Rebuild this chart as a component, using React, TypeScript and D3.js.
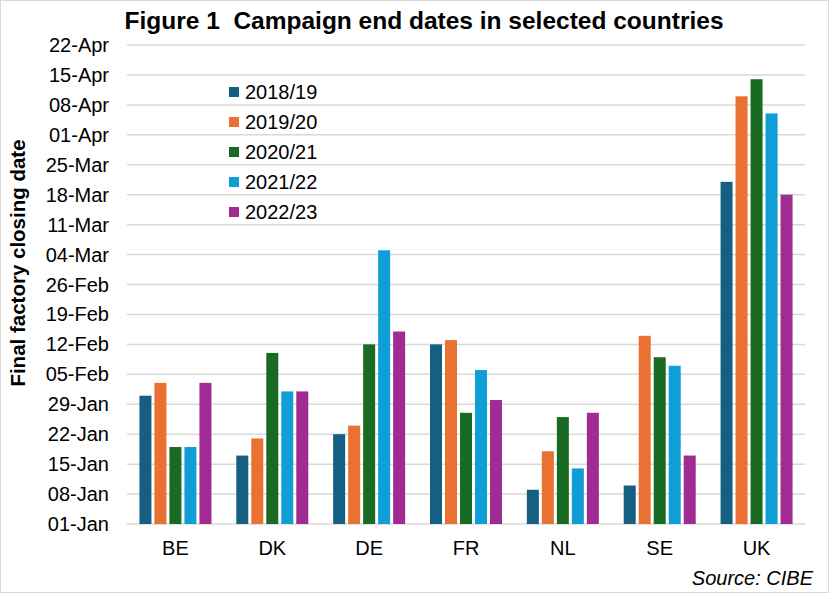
import * as d3 from "d3";

// days after 01-Jan of final factory closing
const countries = ["BE", "DK", "DE", "FR", "NL", "SE", "UK"];
const seasons = ["2018/19", "2019/20", "2020/21", "2021/22", "2022/23"];
const seasonColors = ["#156082", "#E97132", "#196B24", "#0F9ED5", "#A02B93"];
const s2018 = [30, 16, 21, 42, 8, 9, 80];
const s2019 = [33, 20, 23, 43, 17, 44, 100];
const s2020 = [18, 40, 42, 26, 25, 39, 104];
const s2021 = [18, 31, 64, 36, 13, 37, 96];
const s2022 = [33, 31, 45, 29, 26, 16, 77];
const seriesValues = [s2018, s2019, s2020, s2021, s2022];
const tickLabels = [
  "01-Jan", "08-Jan", "15-Jan", "22-Jan", "29-Jan", "05-Feb", "12-Feb", "19-Feb",
  "26-Feb", "04-Mar", "11-Mar", "18-Mar", "25-Mar", "01-Apr", "08-Apr", "15-Apr", "22-Apr",
];

const W = 829;
const H = 593;
const margin = { left: 127, right: 24, top: 45, bottom: 69 };
const font = "'Liberation Sans', Arial, sans-serif";

export default function App() {
  const innerW = W - margin.left - margin.right;
  const innerH = H - margin.top - margin.bottom;

  const y = d3.scaleLinear().domain([0, 112]).range([innerH, 0]);
  const x0 = d3.scaleBand<string>().domain(countries).range([0, innerW]).padding(0);
  const x1 = d3
    .scaleBand<string>()
    .domain(seasons)
    .range([-36, 36])
    .paddingInner(0.2);

  const ticks = tickLabels.map((label, i) => ({ label, v: i * 7 }));

  return (
    <svg
      width={W}
      height={H}
      style={{ position: "absolute", left: 0, top: 0, background: "#fff" }}
      fontFamily={font}
    >
      <rect x={0.5} y={0.5} width={W - 1} height={H - 1} fill="#fff" stroke="#d9d9d9" />
      <text x={424} y={29} textAnchor="middle" fontSize={24.5} fontWeight="bold" fill="#000">
        {"Figure 1\u00a0 Campaign end dates in selected countries"}
      </text>
      <text
        transform={`translate(25,263) rotate(-90)`}
        textAnchor="middle"
        fontSize={20.5}
        fontWeight="bold"
        fill="#000"
      >
        Final factory closing date
      </text>
      <g transform={`translate(${margin.left},${margin.top})`}>
        {ticks.map((t) => (
          <g key={t.label}>
            <line x1={0} x2={innerW} y1={y(t.v)} y2={y(t.v)} stroke="#d9d9d9" strokeWidth={1.5} />
            <text x={-18} y={y(t.v)} dy="0.35em" textAnchor="end" fontSize={20} fill="#000">
              {t.label}
            </text>
          </g>
        ))}
        {countries.map((c, ci) => (
          <g key={c} transform={`translate(${(x0(c) ?? 0) + x0.bandwidth() / 2},0)`}>
            {seasons.map((s, si) => {
              const v = seriesValues[si][ci];
              return (
                <rect
                  key={s}
                  x={x1(s)}
                  y={y(v)}
                  width={x1.bandwidth()}
                  height={y(0) - y(v)}
                  fill={seasonColors[si]}
                />
              );
            })}
            <text y={innerH + 31} textAnchor="middle" fontSize={20} fill="#000">
              {c}
            </text>
          </g>
        ))}
      </g>
      <g transform="translate(229,92)">
        {seasons.map((s, i) => (
          <g key={s} transform={`translate(0,${i * 30})`}>
            <rect x={0} y={-5} width={10} height={10} fill={seasonColors[i]} />
            <text x={16} dy="0.35em" fontSize={20} fill="#000">
              {s}
            </text>
          </g>
        ))}
      </g>
      <text x={813} y={585} textAnchor="end" fontSize={20} fontStyle="italic" fill="#000">
        Source: CIBE
      </text>
    </svg>
  );
}
